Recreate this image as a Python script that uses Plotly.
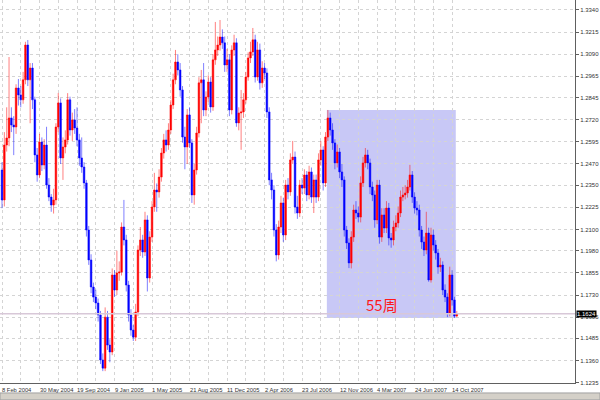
import plotly.graph_objects as go
import pandas as pd

# ---------------- data (weekly USD/CHF-style bars) ----------------
START_WEEK = "2004-02-08"

OPEN = [1.2436,1.2267,1.2577,1.2617,1.2730,1.2690,1.2679,1.2899,1.2860,1.2832,
        1.2945,1.3142,1.2945,1.3012,1.2832,1.2521,1.2408,1.2594,1.2464,1.2577,
        1.2351,1.2283,1.2238,1.2267,1.2679,1.2815,1.2504,1.2566,1.2606,1.2832,
        1.2662,1.2719,1.2673,1.2606,1.2504,1.2453,1.2363,1.2097,1.1928,1.1775,
        1.1718,1.1685,1.1617,1.1363,1.1317,1.1605,1.1447,1.1408,1.1843,1.1758,
        1.1854,1.1860,1.2114,1.2041,1.1786,1.1617,1.1532,1.1492,1.1634,1.1984,
        1.2041,1.1973,1.2154,1.1826,1.2057,1.2227,1.2323,1.2312,1.2396,1.2532,
        1.2606,1.2577,1.2662,1.2803,1.2945,1.3046,1.3001,1.2888,1.2622,1.2566,
        1.2747,1.2589,1.2295,1.2436,1.2645,1.2928,1.2945,1.2775,1.2848,1.2933,
        1.2792,1.3058,1.3114,1.3142,1.3187,1.3154,1.3029,1.3058,1.2775,1.3114,
        1.3154,1.2702,1.2758,1.2764,1.2832,1.2961,1.3069,1.3103,1.3171,1.2961,
        1.3114,1.2928,1.3012,1.2984,1.2764,1.2380,1.2323,1.2097,1.1956,1.2114,
        1.2250,1.2069,1.2351,1.2312,1.2493,1.2509,1.2227,1.2193,1.2351,1.2334,
        1.2408,1.2295,1.2425,1.2283,1.2380,1.2283,1.2493,1.2549,1.2363,1.2622,
        1.2730,1.2662,1.2589,1.2476,1.2538,1.2425,1.2380,1.2097,1.2024,1.1911,
        1.2057,1.2210,1.2193,1.2170,1.2363,1.2476,1.2521,1.2476,1.2340,1.2295,
        1.2154,1.2351,1.2057,1.2182,1.2108,1.2221,1.2052,1.2041,1.2114,1.2137,
        1.2193,1.2283,1.2295,1.2306,1.2340,1.2408,1.2283,1.2221,1.2210,1.2097,
        1.2029,1.1984,1.2080,1.1815,1.2069,1.2012,1.1967,1.1888,1.1899,1.1758,
        1.1718,1.1628,1.1843,1.1702,1.1611]

HIGH = [1.2480,1.2650,1.2790,1.3074,1.2790,1.2740,1.2920,1.2950,1.2910,1.2990,
        1.3160,1.3170,1.3040,1.3040,1.2850,1.2560,1.2640,1.2620,1.2610,1.2680,
        1.2390,1.2300,1.2330,1.2700,1.2871,1.2840,1.2620,1.2660,1.2870,1.2850,
        1.2760,1.2780,1.2790,1.2640,1.2620,1.2480,1.2380,1.2120,1.1960,1.1800,
        1.1760,1.1710,1.1640,1.1400,1.1660,1.1640,1.1480,1.1880,1.1870,1.1980,
        1.1920,1.2140,1.2267,1.2070,1.1810,1.1650,1.1560,1.1680,1.2010,1.2114,
        1.2070,1.2200,1.2180,1.2090,1.2260,1.2420,1.2360,1.2440,1.2560,1.2640,
        1.2660,1.2700,1.2830,1.2980,1.3114,1.3090,1.3040,1.2910,1.2680,1.2780,
        1.2790,1.2610,1.2470,1.2680,1.2960,1.3001,1.3040,1.2880,1.2970,1.2960,
        1.3090,1.3272,1.3190,1.3283,1.3230,1.3190,1.3120,1.3090,1.3140,1.3200,
        1.3180,1.2790,1.2888,1.2870,1.2990,1.3100,1.3160,1.3238,1.3200,1.3160,
        1.3150,1.3050,1.3040,1.3010,1.2790,1.2420,1.2350,1.2130,1.2150,1.2290,
        1.2280,1.2380,1.2390,1.2530,1.2600,1.2540,1.2290,1.2380,1.2390,1.2440,
        1.2430,1.2460,1.2450,1.2410,1.2410,1.2530,1.2600,1.2570,1.2650,1.2775,
        1.2760,1.2700,1.2610,1.2580,1.2560,1.2470,1.2400,1.2120,1.2050,1.2090,
        1.2240,1.2260,1.2230,1.2400,1.2510,1.2560,1.2550,1.2500,1.2370,1.2320,
        1.2380,1.2380,1.2220,1.2220,1.2260,1.2250,1.2080,1.2150,1.2180,1.2230,
        1.2320,1.2340,1.2350,1.2380,1.2465,1.2430,1.2310,1.2260,1.2240,1.2120,
        1.2060,1.2200,1.2110,1.2110,1.2100,1.2040,1.1990,1.1940,1.1920,1.1790,
        1.1740,1.1890,1.1870,1.1720,1.1640]

LOW = [1.2220,1.2230,1.2540,1.2570,1.2650,1.2520,1.2640,1.2800,1.2790,1.2810,
       1.2920,1.2910,1.2700,1.2780,1.2480,1.2370,1.2390,1.2430,1.2440,1.2330,
       1.2260,1.2200,1.2190,1.2240,1.2650,1.2470,1.2380,1.2530,1.2580,1.2630,
       1.2600,1.2640,1.2570,1.2460,1.2420,1.2330,1.2060,1.1900,1.1740,1.1690,
       1.1650,1.1580,1.1340,1.1300,1.1300,1.1420,1.1350,1.1390,1.1720,1.1730,
       1.1810,1.1840,1.2010,1.1750,1.1580,1.1500,1.1470,1.1470,1.1610,1.1950,
       1.1940,1.1950,1.1750,1.1800,1.2030,1.2200,1.2200,1.2280,1.2370,1.2500,
       1.2540,1.2550,1.2640,1.2780,1.2920,1.2970,1.2850,1.2590,1.2440,1.2470,
       1.2560,1.2250,1.2240,1.2410,1.2620,1.2700,1.2740,1.2740,1.2820,1.2760,
       1.2770,1.3030,1.3080,1.3110,1.3120,1.2990,1.2990,1.2740,1.2750,1.3080,
       1.2680,1.2660,1.2550,1.2730,1.2810,1.2940,1.3040,1.3080,1.2930,1.2940,
       1.2890,1.2900,1.2950,1.2730,1.2350,1.2270,1.2060,1.1920,1.1930,1.2080,
       1.2030,1.2040,1.2270,1.2290,1.2470,1.2190,1.2160,1.2170,1.2300,1.2300,
       1.2260,1.2270,1.2250,1.2193,1.2250,1.2260,1.2460,1.2320,1.2340,1.2600,
       1.2630,1.2550,1.2440,1.2450,1.2390,1.2340,1.2060,1.1990,1.1882,1.1880,
       1.2030,1.2160,1.2140,1.2140,1.2340,1.2450,1.2440,1.2300,1.2260,1.2110,
       1.2130,1.2020,1.2030,1.2080,1.2080,1.2010,1.1997,1.2010,1.2090,1.2110,
       1.2170,1.2260,1.2270,1.2280,1.2320,1.2250,1.2190,1.2180,1.2060,1.1990,
       1.1950,1.1960,1.1805,1.1800,1.1980,1.1930,1.1850,1.1860,1.1730,1.1690,
       1.1605,1.1610,1.1670,1.1600,1.1605]

CLOSE = [1.2267,1.2577,1.2617,1.2730,1.2690,1.2679,1.2899,1.2860,1.2832,1.2945,
         1.3142,1.2945,1.3012,1.2832,1.2521,1.2408,1.2594,1.2464,1.2577,1.2351,
         1.2283,1.2238,1.2267,1.2679,1.2815,1.2504,1.2566,1.2606,1.2832,1.2662,
         1.2719,1.2673,1.2606,1.2504,1.2453,1.2363,1.2097,1.1928,1.1775,1.1718,
         1.1685,1.1617,1.1363,1.1317,1.1605,1.1447,1.1408,1.1843,1.1758,1.1854,
         1.1860,1.2114,1.2041,1.1786,1.1617,1.1532,1.1492,1.1634,1.1984,1.2041,
         1.1973,1.2154,1.1826,1.2057,1.2227,1.2323,1.2312,1.2396,1.2532,1.2606,
         1.2577,1.2662,1.2803,1.2945,1.3046,1.3001,1.2888,1.2622,1.2566,1.2747,
         1.2589,1.2295,1.2436,1.2645,1.2928,1.2945,1.2775,1.2848,1.2933,1.2792,
         1.3058,1.3114,1.3142,1.3187,1.3154,1.3029,1.3058,1.2775,1.3114,1.3154,
         1.2702,1.2758,1.2764,1.2832,1.2961,1.3069,1.3103,1.3171,1.2961,1.3114,
         1.2928,1.3012,1.2984,1.2764,1.2380,1.2323,1.2097,1.1956,1.2114,1.2250,
         1.2069,1.2351,1.2312,1.2493,1.2509,1.2227,1.2193,1.2351,1.2334,1.2408,
         1.2295,1.2425,1.2283,1.2380,1.2283,1.2493,1.2549,1.2363,1.2622,1.2730,
         1.2662,1.2589,1.2476,1.2538,1.2425,1.2380,1.2097,1.2024,1.1911,1.2057,
         1.2210,1.2193,1.2170,1.2363,1.2476,1.2521,1.2476,1.2340,1.2295,1.2154,
         1.2351,1.2057,1.2182,1.2108,1.2221,1.2052,1.2041,1.2114,1.2137,1.2193,
         1.2283,1.2295,1.2306,1.2340,1.2408,1.2283,1.2221,1.2210,1.2097,1.2029,
         1.1984,1.2080,1.1815,1.2069,1.2012,1.1967,1.1888,1.1899,1.1758,1.1718,
         1.1628,1.1843,1.1702,1.1611,1.1624]

Y_TICKS = [1.3340, 1.3215, 1.3090, 1.2965, 1.2845, 1.2720, 1.2595, 1.2470, 1.2350,
           1.2225, 1.2100, 1.1980, 1.1855, 1.1730, 1.1605, 1.1485, 1.1360, 1.1235]

X_LABELS = ["8 Feb 2004", "30 May 2004", "19 Sep 2004", "9 Jan 2005", "1 May 2005",
            "21 Aug 2005", "11 Dec 2005", "2 Apr 2006", "23 Jul 2006", "12 Nov 2006",
            "4 Mar 2007", "24 Jun 2007", "14 Oct 2007"]

RECT_FIRST_WEEK = 139      # peak week
RECT_LAST_WEEK = 194       # last week
RECT_LABEL = "55周"

# ---------------- figure ----------------
weeks = pd.date_range(START_WEEK, periods=len(CLOSE), freq="7D")
t0 = pd.Timestamp(START_WEEK)

fig = go.Figure()

fig.add_trace(go.Candlestick(
    x=weeks, open=OPEN, high=HIGH, low=LOW, close=CLOSE,
    increasing=dict(line=dict(color="rgba(255,0,0,0.5)", width=1), fillcolor="#ff0000"),
    decreasing=dict(line=dict(color="rgba(0,0,255,0.5)", width=1), fillcolor="#0000ff"),
    whiskerwidth=0, showlegend=False, hoverinfo="skip",
))

rect_lows = LOW[RECT_FIRST_WEEK:RECT_LAST_WEEK + 1]
rect_highs = HIGH[RECT_FIRST_WEEK:RECT_LAST_WEEK + 1]
half = pd.Timedelta(days=3)
fig.add_shape(type="rect", xref="x", yref="y",
              x0=weeks[RECT_FIRST_WEEK] - half, x1=weeks[RECT_LAST_WEEK] - half,
              y0=min(rect_lows), y1=max(rect_highs),
              fillcolor="#c8c8f6", line=dict(width=0), layer="below")

last_price = CLOSE[-1]
fig.add_shape(type="line", xref="paper", yref="y", x0=0, x1=1,
              y0=last_price, y1=last_price,
              line=dict(color="#d8c8d8", width=1.5))

fig.add_annotation(x=1, xref="paper", y=last_price, yref="y", text=f"{last_price:.4f}",
                   showarrow=False, xanchor="left", xshift=1,
                   bgcolor="#000000", font=dict(color="#ffffff", size=6, family="Liberation Sans"),
                   borderpad=0)

fig.add_annotation(x=weeks[RECT_FIRST_WEEK + 23], xref="x", y=min(rect_lows), yref="y",
                   text=RECT_LABEL, showarrow=False, yanchor="bottom", yshift=1,
                   font=dict(color="#ff1a1a", size=15, family="Noto Sans CJK SC"))

for k, lab in enumerate(X_LABELS):
    fig.add_annotation(x=weeks[16 * k], xref="x", y=0, yref="paper", text=lab,
                       showarrow=False, xanchor="left", yanchor="top", xshift=-2, yshift=-2,
                       font=dict(size=5.8, color="#333333", family="Liberation Sans"))

# bottom tab strip
fig.add_shape(type="rect", xref="paper", yref="paper", x0=0, x1=600 / 575,
              y0=-0.044, y1=-0.026, fillcolor="#d4d0c8", line=dict(color="#a0a0a0", width=1))

x_start = t0 - pd.Timedelta(days=6)
x_end = t0 + pd.Timedelta(days=1711)

fig.update_layout(
    width=600, height=400,
    margin=dict(l=0, r=25, t=0, b=17),
    paper_bgcolor="#ffffff", plot_bgcolor="#ffffff",
    boxgap=0.3, boxgroupgap=0,
    xaxis=dict(type="date", range=[x_start, x_end], rangeslider=dict(visible=False),
               tickvals=list(weeks[::8]), showticklabels=False, ticks="",
               showgrid=True, gridcolor="#d4d4d4", griddash="dot", gridwidth=1,
               showline=True, linecolor="#606060", linewidth=1, zeroline=False),
    yaxis=dict(side="right", range=[1.1233, 1.3396], tickvals=Y_TICKS,
               ticktext=[f"{v:.4f}" for v in Y_TICKS],
               tickfont=dict(size=6, color="#333333", family="Liberation Sans"),
               ticks="outside", ticklen=3, tickcolor="#606060",
               showgrid=True, gridcolor="#d4d4d4", griddash="dot", gridwidth=1,
               showline=True, linecolor="#606060", linewidth=1, zeroline=False),
)

fig.write_html("out.html", config={"displayModeBar": False},
               post_script="document.body.style.margin='0';document.body.style.overflow='hidden';")
